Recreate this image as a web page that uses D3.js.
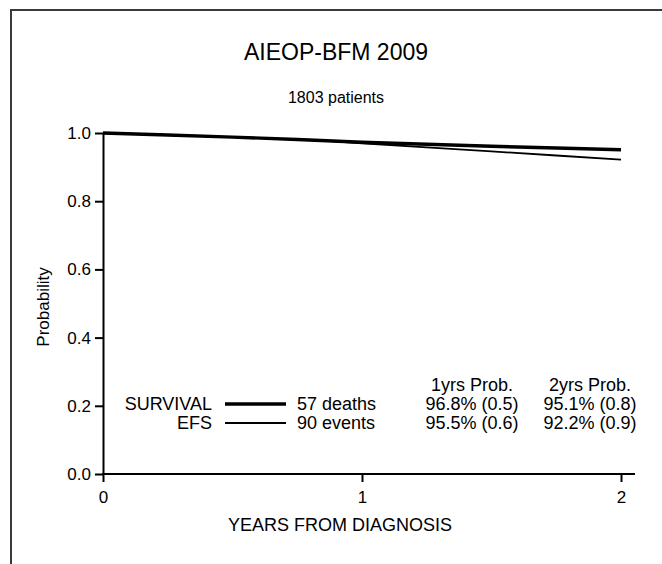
<!DOCTYPE html>
<html lang="en">
<head>
    <meta charset="UTF-8">
    <title>AIEOP-BFM 2009</title>
    <script src="https://d3js.org/d3.v7.min.js"></script>
    <style>
        body { margin: 0; background: #fff; }
        text { font-family: "Liberation Sans", Arial, Helvetica, sans-serif; fill: #000; }
        .axis path, .axis line { stroke: #000; stroke-width: 2px; }
        .axis text { font-size: 17px; }
        .curve { fill: none; stroke: #000; }
    </style>
</head>
<body>
<svg id="chart"></svg>
<script>
    // Curve values (years, probability)
    const survivalTimes = [0, 0.25, 0.5, 0.75, 1.0, 1.25, 1.5, 1.75, 2.0];
    const survivalProbs = [1.0, 0.994, 0.988, 0.981, 0.973, 0.967, 0.961, 0.956, 0.951];
    const efsTimes = [0, 0.25, 0.5, 0.75, 0.85, 1.0, 1.25, 1.5, 1.75, 2.0];
    const efsProbs = [1.0, 0.994, 0.988, 0.981, 0.978, 0.970, 0.958, 0.946, 0.934, 0.922];

    const xTicks = [0, 1, 2];
    const yTicks = [0, 0.2, 0.4, 0.6, 0.8, 1.0];

    // legend table
    const seriesNames = ["SURVIVAL", "EFS"];
    const seriesEvents = ["57 deaths", "90 events"];
    const probHeaders = ["1yrs Prob.", "2yrs Prob."];
    const prob1yr = ["96.8% (0.5)", "95.5% (0.6)"];
    const prob2yr = ["95.1% (0.8)", "92.2% (0.9)"];
    const lineWidths = [3.4, 1.8];

    const svgWidth = 662, svgHeight = 564;
    const svg = d3.select("#chart").attr("width", svgWidth).attr("height", svgHeight);

    // frame (top and left edge)
    svg.append("path")
        .attr("d", "M11,564 L11,10 L662,10")
        .attr("fill", "none")
        .attr("stroke", "#3a3a3a")
        .attr("stroke-width", 2);

    const x = d3.scaleLinear().domain([0, 2]).range([103, 621]);
    const y = d3.scaleLinear().domain([0, 1]).range([474, 133]);

    // titles
    svg.append("text").attr("x", 336).attr("y", 60)
        .attr("text-anchor", "middle").style("font-size", "23px").text("AIEOP-BFM 2009");
    svg.append("text").attr("x", 336).attr("y", 103)
        .attr("text-anchor", "middle").style("font-size", "16px").text("1803 patients");

    // axes
    svg.append("g").attr("class", "axis")
        .attr("transform", "translate(" + x(0) + ",0)")
        .call(d3.axisLeft(y).tickValues(yTicks).tickFormat(d3.format(".1f"))
            .tickSize(8).tickSizeOuter(0).tickPadding(4));

    const xAxis = svg.append("g").attr("class", "axis")
        .attr("transform", "translate(0," + y(0) + ")")
        .call(d3.axisBottom(x).tickValues(xTicks).tickFormat(d3.format("d"))
            .tickSize(8).tickSizeOuter(0).tickPadding(9));
    // the x axis line runs a bit past the last tick
    xAxis.select(".domain").attr("d", "M" + (x(0) - 1) + ",0H" + (x(2) + 14));

    svg.append("text").attr("x", 340).attr("y", 531)
        .attr("text-anchor", "middle").style("font-size", "18px").text("YEARS FROM DIAGNOSIS");
    svg.append("text")
        .attr("transform", "translate(49," + 307 + ") rotate(-90)")
        .attr("text-anchor", "middle").style("font-size", "17px").text("Probability");

    // curves
    const line = d3.line().x(d => x(d[0])).y(d => y(d[1]));
    const curves = [
        d3.zip(survivalTimes, survivalProbs),
        d3.zip(efsTimes, efsProbs)
    ];
    svg.selectAll(".curve")
        .data(curves)
        .enter().append("path")
        .attr("class", "curve")
        .attr("stroke-width", (d, i) => lineWidths[i])
        .attr("d", line);

    // legend table
    const rowY = [404, 423];
    const headerY = 385;
    const leg = svg.append("g").style("font-size", "18px");

    leg.selectAll(".hdr")
        .data(probHeaders)
        .enter().append("text")
        .attr("x", (d, i) => [472, 590][i])
        .attr("y", headerY)
        .attr("dy", "0.35em")
        .attr("text-anchor", "middle")
        .text(d => d);

    seriesNames.forEach((name, i) => {
        leg.append("text").attr("x", 212).attr("y", rowY[i]).attr("dy", "0.35em")
            .attr("text-anchor", "end").text(name);
        leg.append("line").attr("x1", 225).attr("x2", 286)
            .attr("y1", rowY[i]).attr("y2", rowY[i])
            .attr("stroke", "#000").attr("stroke-width", lineWidths[i]);
        leg.append("text").attr("x", 297).attr("y", rowY[i]).attr("dy", "0.35em")
            .text(seriesEvents[i]);
        leg.append("text").attr("x", 472).attr("y", rowY[i]).attr("dy", "0.35em")
            .attr("text-anchor", "middle").text(prob1yr[i]);
        leg.append("text").attr("x", 590).attr("y", rowY[i]).attr("dy", "0.35em")
            .attr("text-anchor", "middle").text(prob2yr[i]);
    });
</script>
</body>
</html>
